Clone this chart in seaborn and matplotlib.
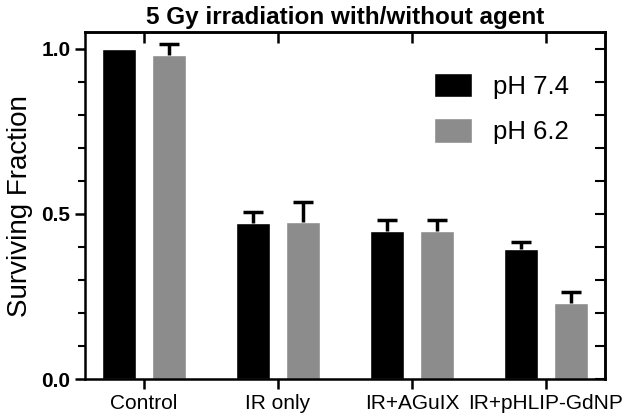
import matplotlib
matplotlib.use("Agg")
import matplotlib.pyplot as plt
from matplotlib.ticker import MultipleLocator
import seaborn as sns
import pandas as pd

categories = ["Control", "IR only", "IR+AGuIX", "IR+pHLIP-GdNP"]
groups = ["pH 7.4", "pH 6.2"]
ph74_mean = [1.0, 0.472, 0.448, 0.393]
ph74_err = [0.0, 0.033, 0.034, 0.021]
ph62_mean = [0.982, 0.477, 0.449, 0.229]
ph62_err = [0.033, 0.060, 0.033, 0.036]

colors = ["#000000", "#8c8c8c"]

df = pd.DataFrame({
    "condition": categories * 2,
    "group": [groups[0]] * 4 + [groups[1]] * 4,
    "value": ph74_mean + ph62_mean,
    "err": ph74_err + ph62_err,
})

sns.set_style("ticks")
plt.rcParams["font.family"] = ["Liberation Sans", "DejaVu Sans"]
plt.rcParams["text.color"] = "black"
plt.rcParams["axes.labelcolor"] = "black"

fig = plt.figure(figsize=(6.34, 4.18), dpi=100)
ax = fig.add_axes([0.134, 0.093, 0.820, 0.830])

sns.barplot(data=df, x="condition", y="value", hue="group", order=categories,
            hue_order=groups, palette=colors, width=0.75, gap=0.33,
            errorbar=None, saturation=1, ax=ax)

# upward-only error bars from the bar patches (drop the lower cap)
bars = [p for p in ax.patches if p.get_height() > 0]
for p, (_, row) in zip(bars, df.iterrows()):
    if row["err"] > 0:
        xc = p.get_x() + p.get_width() / 2
        eb = ax.errorbar(xc, row["value"], yerr=[[0], [row["err"]]], fmt="none",
                         ecolor="black", elinewidth=2.5, capsize=7, capthick=2.5,
                         zorder=1)
        eb.lines[1][0].set_visible(False)

ax.set_xlim(-0.44, 3.44)
ax.set_ylim(0, 1.05)
ax.yaxis.set_minor_locator(MultipleLocator(0.1))
ax.set_yticks([0, 0.5, 1.0])
ax.set_yticklabels(["0.0", "0.5", "1.0"], fontsize=15, fontweight="bold")
ax.set_xticks(range(4))
ax.set_xticklabels(categories, fontsize=15)

for s in ax.spines.values():
    s.set_linewidth(1.8)
    s.set_color("black")

ax.tick_params(axis="both", which="major", direction="out", length=7, width=1.8,
               color="black", labelcolor="black")
ax.tick_params(axis="y", which="minor", direction="out", length=5, width=1.5,
               color="black")

# inward ticks on top and right
axt = ax.secondary_xaxis("top")
axt.set_xticks(range(4))
axt.tick_params(direction="in", length=8, width=1.8, labeltop=False, color="black")
axr = ax.secondary_yaxis("right")
axr.yaxis.set_major_locator(MultipleLocator(0.1))
axr.tick_params(direction="in", length=7, width=1.5, labelright=False, color="black")
for s in list(axt.spines.values()) + list(axr.spines.values()):
    s.set_linewidth(1.8)
    s.set_color("black")

ax.set_xlabel("")
ax.set_ylabel("Surviving Fraction", fontsize=20, labelpad=6, color="black")
ax.set_title("5 Gy irradiation with/without agent", fontsize=17.5,
             fontweight="bold", pad=6, color="black")

leg = ax.legend(loc="upper right", frameon=False, fontsize=18.5, handlelength=1.5,
                handleheight=1.1, labelspacing=0.75, handletextpad=0.8,
                bbox_to_anchor=(0.975, 0.95))
for t in leg.get_texts():
    t.set_color("black")

fig.savefig("out.png", dpi=100)
